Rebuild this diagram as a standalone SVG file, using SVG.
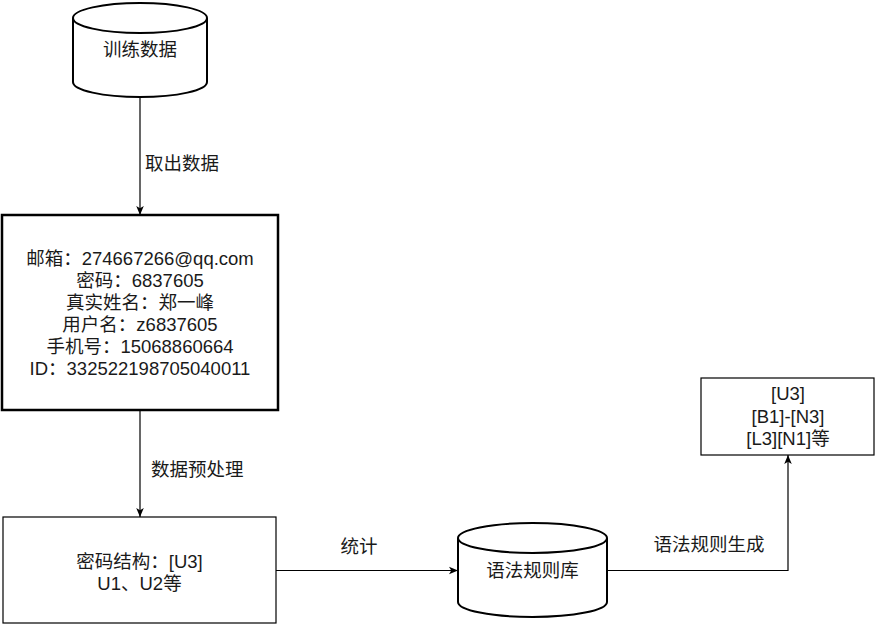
<svg xmlns="http://www.w3.org/2000/svg" width="875" height="624" viewBox="0 0 875 624">
<style>
text{font-family:"Liberation Sans","Noto Sans CJK SC",sans-serif;font-size:18.5px;fill:#1a1a1a}
.c{text-anchor:middle}
.node{fill:#fff;stroke:#000}
.edge{fill:none;stroke:#000;stroke-width:1.2}
</style>
<defs>
<marker id="arr" viewBox="0 0 10 10" refX="10" refY="5" markerWidth="9" markerHeight="9" markerUnits="userSpaceOnUse" orient="auto">
<path d="M0,0.8 L10,5 L0,9.2 L2.5,5 Z" fill="#000"/>
</marker>
</defs>
<rect width="875" height="624" fill="#fff"/>
<g id="connectors">
<path class="edge" d="M140,97 L140,215" marker-end="url(#arr)"/>
<path class="edge" d="M140,410 L140,517" marker-end="url(#arr)"/>
<path class="edge" d="M276,570.5 L458,570.5" marker-end="url(#arr)"/>
<path class="edge" d="M607,570.5 L788,570.5 L788,455" marker-end="url(#arr)"/>
<text x="145" y="170">取出数据</text>
<text x="151" y="476">数据预处理</text>
<text x="359" y="553" class="c">统计</text>
<text x="709" y="551" class="c">语法规则生成</text>
</g>
<g id="training-data">
<path class="node" stroke-width="2" d="M73,18 A67,15 0 0,1 207,18 L207,82 A67,15 0 0,1 73,82 Z"/>
<path fill="none" stroke="#000" stroke-width="2" d="M73,18 A67,15 0 0,0 207,18"/>
<text x="140" y="56" class="c">训练数据</text>
</g>
<g id="record">
<rect class="node" stroke-width="2.5" x="2" y="215" width="276" height="195"/>
<text x="140" y="265" class="c">邮箱：274667266@qq.com</text>
<text x="140" y="287" class="c">密码：6837605</text>
<text x="140" y="309" class="c">真实姓名：郑一峰</text>
<text x="140" y="331" class="c">用户名：z6837605</text>
<text x="140" y="353" class="c">手机号：15068860664</text>
<text x="140" y="375" class="c">ID：332522198705040011</text>
</g>
<g id="structure">
<rect class="node" stroke-width="1.2" x="3" y="517" width="273" height="106"/>
<text x="139.5" y="568" class="c">密码结构：[U3]</text>
<text x="139.5" y="590" class="c">U1、U2等</text>
</g>
<g id="grammar-db">
<path class="node" stroke-width="2" d="M458,538 A74.5,15 0 0,1 607,538 L607,602 A74.5,15 0 0,1 458,602 Z"/>
<path fill="none" stroke="#000" stroke-width="2" d="M458,538 A74.5,15 0 0,0 607,538"/>
<text x="532.5" y="577" class="c">语法规则库</text>
</g>
<g id="rules">
<rect class="node" stroke-width="1.2" x="701" y="378" width="173" height="77"/>
<text x="788" y="400" class="c">[U3]</text>
<text x="788" y="423" class="c">[B1]-[N3]</text>
<text x="788" y="445" class="c">[L3][N1]等</text>
</g>
</svg>
